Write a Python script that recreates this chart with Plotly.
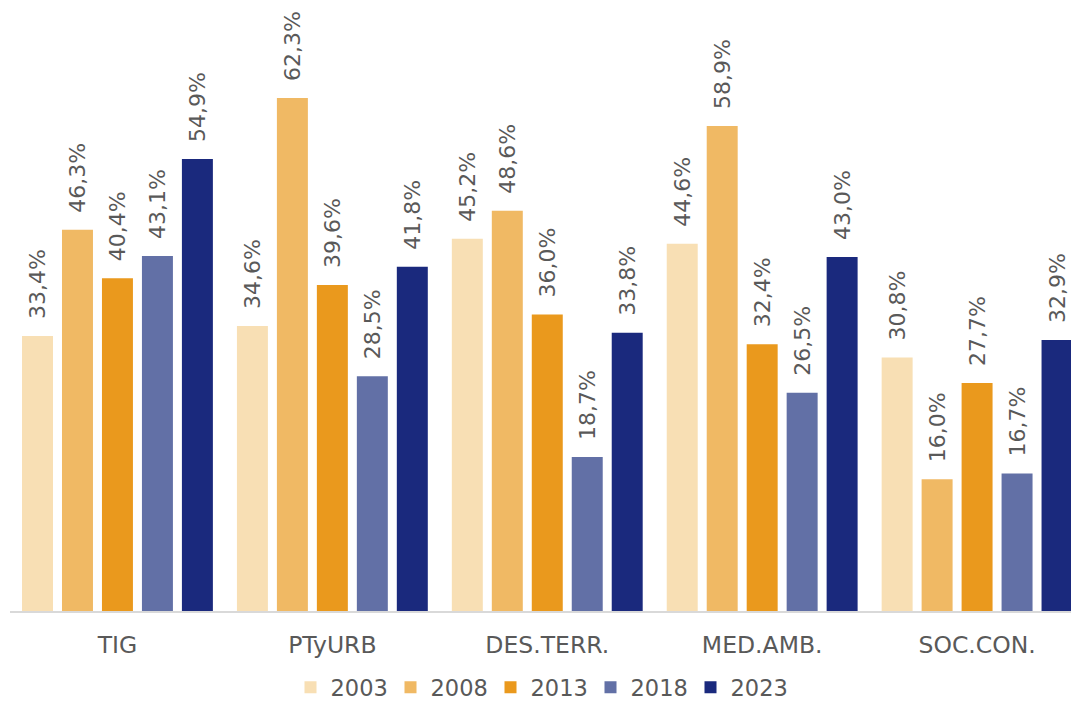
import plotly.graph_objects as go

categories = ["TIG", "PTyURB", "DES.TERR.", "MED.AMB.", "SOC.CON."]
years = ["2003", "2008", "2013", "2018", "2023"]
values = {
    "2003": [33.4, 34.6, 45.2, 44.6, 30.8],
    "2008": [46.3, 62.3, 48.6, 58.9, 16.0],
    "2013": [40.4, 39.6, 36.0, 32.4, 27.7],
    "2018": [43.1, 28.5, 18.7, 26.5, 16.7],
    "2023": [54.9, 41.8, 33.8, 43.0, 32.9],
}
colors = {
    "2003": "#F8DFB4",
    "2008": "#F0B964",
    "2013": "#EA991D",
    "2018": "#6270A6",
    "2023": "#1A297D",
}

FONT = "DejaVu Sans"
TXT = "#595959"

fig = go.Figure()
for yr in years:
    fig.add_trace(go.Bar(
        x=categories, y=values[yr], name=yr,
        marker=dict(color=colors[yr], line=dict(width=0)),
        texttemplate="\u00a0\u00a0%{y:.1f}%",
        textposition="outside", textangle=-90,
        constraintext="none", cliponaxis=False,
        textfont=dict(family=FONT, size=22, color=TXT),
    ))

fig.update_layout(
    width=1071, height=703,
    margin=dict(l=10, r=0, t=0, b=92, autoexpand=False),
    paper_bgcolor="white", plot_bgcolor="white",
    barmode="group", bargap=0.07, bargroupgap=0.225,
    separators=",.",
    font=dict(family=FONT, color=TXT),
    showlegend=True,
    legend=dict(orientation="h", x=0.5, xanchor="center",
                yref="container", y=0.022, yanchor="middle",
                bgcolor="rgba(0,0,0,0)",
                font=dict(family=FONT, size=22.5, color=TXT), itemwidth=30,
                entrywidth=55, entrywidthmode="pixels",
                traceorder="normal"),
    xaxis=dict(range=[-0.5, 4.437], showline=True, linecolor="#D9D9D9", linewidth=2,
               ticks="", ticklabelstandoff=12, automargin=False,
               tickfont=dict(family=FONT, size=23.5, color=TXT), showgrid=False),
    yaxis=dict(range=[0, 74.2], visible=False, showgrid=False, automargin=False),
)

fig.write_html("out.html", config={"displayModeBar": False},
               post_script="document.body.style.margin='0';document.body.style.overflow='hidden';")
